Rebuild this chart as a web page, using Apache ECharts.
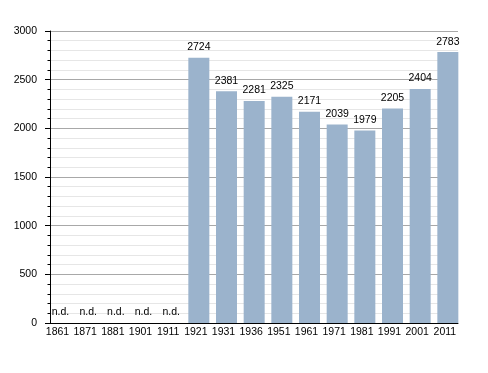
<!DOCTYPE html>
<html>
<head>
<meta charset="utf-8">
<script src="https://cdn.jsdelivr.net/npm/echarts@6/dist/echarts.min.js"></script>
<style>html,body{margin:0;padding:0;background:#fff;}#c{width:488px;height:373px;}</style>
</head>
<body>
<div id="c"></div>
<script>
var categories = ['1861','1871','1881','1901','1911','1921','1931','1936','1951','1961','1971','1981','1991','2001','2011'];
var populations = [null, null, null, null, null, 2724, 2381, 2281, 2325, 2171, 2039, 1979, 2205, 2404, 2783];
var yTicks = [0, 500, 1000, 1500, 2000, 2500, 3000];
var noDataLabel = 'n.d.';

var FONT = 'Liberation Sans, Arial, sans-serif';
var barData = populations.map(function (v) {
  return v == null ? { value: 0, label: { formatter: noDataLabel } } : v;
});

var chart = echarts.init(document.getElementById('c'), null, { renderer: 'canvas' });
chart.setOption({
  animation: false,
  backgroundColor: '#ffffff',
  grid: [
    { left: 46.67, right: 26.33, top: 31, bottom: 50 },
    { left: 50, right: 30, top: 31, bottom: 50 }
  ],
  xAxis: [
    {
      type: 'category', gridIndex: 0, data: categories,
      axisLine: { show: false }, axisTick: { show: false },
      axisLabel: { color: '#000', fontSize: 10.5, fontFamily: FONT, margin: 4, interval: 0, padding: [0, 6, 0, 0] },
      splitLine: { show: false }
    },
    {
      type: 'value', gridIndex: 1, min: 0, max: 1,
      axisLine: { show: true, lineStyle: { color: '#000', width: 1 } },
      axisTick: { show: false }, axisLabel: { show: false }, splitLine: { show: false }
    }
  ],
  yAxis: [
    {
      type: 'value', gridIndex: 0, min: yTicks[0], max: yTicks[yTicks.length - 1], interval: 500,
      show: false, splitLine: { show: false }
    },
    {
      type: 'value', gridIndex: 1, min: yTicks[0], max: yTicks[yTicks.length - 1], interval: 500,
      axisLine: { show: true, lineStyle: { color: '#000', width: 1 } },
      axisTick: { show: true, length: 5, lineStyle: { color: '#000' } },
      minorTick: { show: true, splitNumber: 5, length: 2.5, lineStyle: { color: '#000' } },
      axisLabel: { color: '#000', fontSize: 10.5, fontFamily: FONT, margin: 13, formatter: function (v) { return String(v); } },
      splitLine: { show: true, lineStyle: { color: '#a8a8a8', width: 1 } },
      minorSplitLine: { show: true, lineStyle: { color: '#e6e6e6', width: 1 } }
    }
  ],
  series: [
    {
      type: 'bar', xAxisIndex: 0, yAxisIndex: 0, data: barData,
      barWidth: 21,
      itemStyle: { color: '#9bb3cc' },
      label: { show: true, position: 'top', distance: 5, color: '#000', fontSize: 10.5, fontFamily: FONT }
    }
  ]
});
</script>
</body>
</html>
